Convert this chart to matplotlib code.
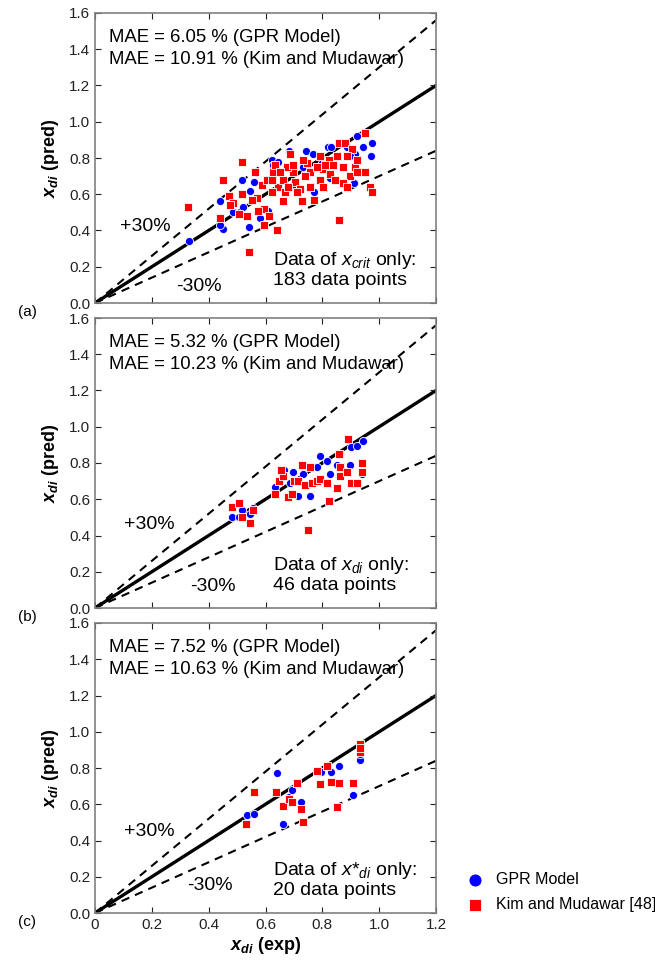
import numpy as np
import matplotlib
matplotlib.use('Agg')
from matplotlib import pyplot as plt

plt.rcParams['font.family'] = ['Liberation Sans', 'DejaVu Sans']
plt.rcParams['mathtext.fontset'] = 'custom'
plt.rcParams['mathtext.rm'] = 'Liberation Sans'
plt.rcParams['mathtext.it'] = 'Liberation Sans:italic'
plt.rcParams['mathtext.bf'] = 'Liberation Sans:bold:italic'

# panel (a) : data of x_crit only
gpr_a_exp = [0.33, 0.45, 0.44, 0.44, 0.485, 0.516, 0.546, 0.543, 0.561, 0.61, 0.622, 0.643,
             0.626, 0.681, 0.743, 0.766, 0.771, 0.82, 0.832, 0.857, 0.913, 0.921, 0.942, 0.974,
             0.971, 0.915, 0.698, 0.827, 0.733, 0.898, 0.58, 0.52, 0.80, 0.886]
gpr_a_pred = [0.34, 0.41, 0.43, 0.56, 0.50, 0.68, 0.62, 0.42, 0.67, 0.51, 0.79, 0.78,
              0.76, 0.84, 0.84, 0.82, 0.61, 0.86, 0.86, 0.88, 0.66, 0.92, 0.86, 0.88,
              0.81, 0.82, 0.65, 0.69, 0.75, 0.81, 0.47, 0.53, 0.77, 0.86]
km_a_exp = [0.329, 0.45, 0.516, 0.543, 0.44, 0.473, 0.487, 0.516, 0.534, 0.563, 0.569, 0.593,
            0.593, 0.613, 0.642, 0.587, 0.604, 0.628, 0.643, 0.669, 0.663, 0.687, 0.698, 0.675,
            0.704, 0.722, 0.73, 0.745, 0.757, 0.792, 0.771, 0.792, 0.804, 0.822, 0.827, 0.845,
            0.86, 0.857, 0.874, 0.88, 0.898, 0.904, 0.915, 0.921, 0.951, 0.951, 0.968, 0.974,
            0.874, 0.921, 0.851, 0.81, 0.733, 0.633, 0.622, 0.575, 0.552, 0.505, 0.476, 0.663,
            0.71, 0.757, 0.804, 0.839, 0.886, 0.78, 0.698, 0.74, 0.622, 0.68, 0.886, 0.65]
km_a_pred = [0.53, 0.68, 0.78, 0.28, 0.47, 0.59, 0.55, 0.60, 0.48, 0.72, 0.58, 0.43,
             0.52, 0.48, 0.40, 0.65, 0.68, 0.72, 0.64, 0.61, 0.56, 0.82, 0.72, 0.75,
             0.67, 0.63, 0.56, 0.77, 0.72, 0.68, 0.57, 0.81, 0.74, 0.79, 0.71, 0.68,
             0.46, 0.88, 0.75, 0.88, 0.70, 0.85, 0.75, 0.72, 0.94, 0.72, 0.64, 0.61,
             0.66, 0.79, 0.81, 0.76, 0.79, 0.76, 0.61, 0.51, 0.57, 0.49, 0.54, 0.68,
             0.61, 0.64, 0.64, 0.76, 0.81, 0.75, 0.76, 0.70, 0.68, 0.64, 0.64, 0.72]

# panel (b) : data of x_di only
gpr_b_exp = [0.481, 0.516, 0.505, 0.546, 0.555, 0.634, 0.665, 0.698, 0.716, 0.687, 0.757, 0.78,
             0.792, 0.816, 0.827, 0.851, 0.863, 0.896, 0.90, 0.921, 0.942, 0.939, 0.733, 0.65]
gpr_b_pred = [0.50, 0.54, 0.50, 0.52, 0.55, 0.67, 0.76, 0.75, 0.62, 0.69, 0.62, 0.78,
              0.84, 0.81, 0.74, 0.79, 0.85, 0.79, 0.89, 0.895, 0.92, 0.74, 0.74, 0.70]
km_b_exp = [0.481, 0.505, 0.516, 0.546, 0.557, 0.634, 0.648, 0.663, 0.68, 0.692, 0.70, 0.716,
            0.728, 0.739, 0.751, 0.763, 0.78, 0.792, 0.816, 0.824, 0.851, 0.863, 0.863, 0.886,
            0.892, 0.901, 0.921, 0.939, 0.939, 0.857, 0.757, 0.656]
km_b_pred = [0.56, 0.58, 0.50, 0.47, 0.54, 0.63, 0.70, 0.73, 0.61, 0.63, 0.70, 0.70,
             0.79, 0.68, 0.43, 0.69, 0.70, 0.71, 0.69, 0.59, 0.66, 0.73, 0.78, 0.75,
             0.93, 0.69, 0.69, 0.80, 0.75, 0.85, 0.78, 0.76]

# panel (c) : data of x*_di only
gpr_c_exp = [0.534, 0.56, 0.64, 0.661, 0.681, 0.692, 0.725, 0.795, 0.831, 0.857, 0.907, 0.931, 0.931]
gpr_c_pred = [0.54, 0.545, 0.775, 0.49, 0.64, 0.68, 0.615, 0.78, 0.78, 0.81, 0.65, 0.845, 0.88]
km_c_exp = [0.532, 0.561, 0.637, 0.661, 0.684, 0.692, 0.712, 0.725, 0.733, 0.78, 0.792, 0.816,
            0.831, 0.853, 0.859, 0.907, 0.931, 0.931, 0.931]
km_c_pred = [0.49, 0.67, 0.67, 0.59, 0.63, 0.61, 0.72, 0.575, 0.50, 0.785, 0.71, 0.81,
             0.725, 0.585, 0.715, 0.72, 0.93, 0.89, 0.91]

mae_text = [('6.05', '10.91'), ('5.32', '10.23'), ('7.52', '10.63')]
data_text = [r'Data of $\mathit{x_{crit}}$ only:' + '\n183 data points',
             r'Data of $\mathit{x_{di}}$ only:' + '\n46 data points',
             r'Data of $\mathit{x}\mathrm{*}_{\mathit{di}}$ only:' + '\n20 data points']
panel_tags = ['(a)', '(b)', '(c)']
gpr = [(gpr_a_exp, gpr_a_pred), (gpr_b_exp, gpr_b_pred), (gpr_c_exp, gpr_c_pred)]
km = [(km_a_exp, km_a_pred), (km_b_exp, km_b_pred), (km_c_exp, km_c_pred)]
plus_pos = [(0.176, 0.42), (0.19, 0.46), (0.19, 0.45)]
minus_pos = [(0.366, 0.09), (0.415, 0.12), (0.405, 0.15)]

fig = plt.figure(figsize=(6.55, 9.71), dpi=100)
bottoms = [1 - 303/971, 1 - 608/971, 1 - 913/971]
xl = np.array([0, 1.2])

for i in range(3):
    ax = fig.add_axes([95/655, bottoms[i], 341/655, 290/971])
    ax.plot(xl, xl, color='black', lw=2.4, zorder=1)
    ax.plot(xl, 1.3*xl, color='black', lw=1.5, ls=(0, (4, 3)), zorder=1)
    ax.plot(xl, 0.7*xl, color='black', lw=1.5, ls=(0, (4, 3)), zorder=1)
    ax.scatter(gpr[i][0], gpr[i][1], s=34, marker='o', color='#0000ff',
               edgecolors='white', linewidths=0.6, zorder=3, label='GPR Model')
    ax.scatter(km[i][0], km[i][1], s=30, marker='s', color='#ff0000',
               edgecolors='white', linewidths=0.6, zorder=4, label='Kim and Mudawar [48]')
    ax.set_xlim(0, 1.2)
    ax.set_ylim(0, 1.6)
    ax.set_yticks(np.arange(0, 1.61, 0.2))
    ax.set_yticklabels(['%.1f' % v for v in np.arange(0, 1.61, 0.2)])
    ax.set_xticks(np.arange(0, 1.21, 0.2))
    if i == 2:
        ax.set_xticklabels(['0'] + ['%.1f' % v for v in np.arange(0.2, 1.21, 0.2)])
        ax.set_xlabel(r'$\mathbf{x_{di}}$ (exp)', fontsize=13, fontweight='bold', labelpad=2)
    else:
        ax.set_xticklabels([])
    ax.tick_params(direction='in', length=4, top=True, right=True, labelsize=11,
                   colors='#222222', width=0.8)
    for s in ax.spines.values():
        s.set_color('#808080')
        s.set_linewidth(1.2)
    ax.set_ylabel(r'$\mathbf{x_{di}}$ (pred)', fontsize=13, fontweight='bold', labelpad=6)

    ax.text(0.04, 0.915, 'MAE = %s %% (GPR Model)' % mae_text[i][0], transform=ax.transAxes,
            fontsize=13.3, va='center')
    ax.text(0.04, 0.838, 'MAE = %s %% (Kim and Mudawar)' % mae_text[i][1], transform=ax.transAxes,
            fontsize=13.3, va='center')
    ax.text(plus_pos[i][0], plus_pos[i][1], '+30%', fontsize=14, ha='center', va='center')
    ax.text(minus_pos[i][0], minus_pos[i][1], '-30%', fontsize=14, ha='center', va='center')
    ax.text(0.627, 0.185, data_text[i], fontsize=14, ha='left', va='center', linespacing=1.1)
    fig.text(18/655, bottoms[i] - 9/971, panel_tags[i], fontsize=11, ha='left', va='center')

handles, labels = ax.get_legend_handles_labels()
fig.legend(handles, labels, loc='center left', bbox_to_anchor=(445/655, 1 - 892/971),
           frameon=False, fontsize=11.5, handletextpad=0.3, labelspacing=0.6,
           scatterpoints=1, markerscale=1.6)

fig.savefig('out.png', dpi=100)
